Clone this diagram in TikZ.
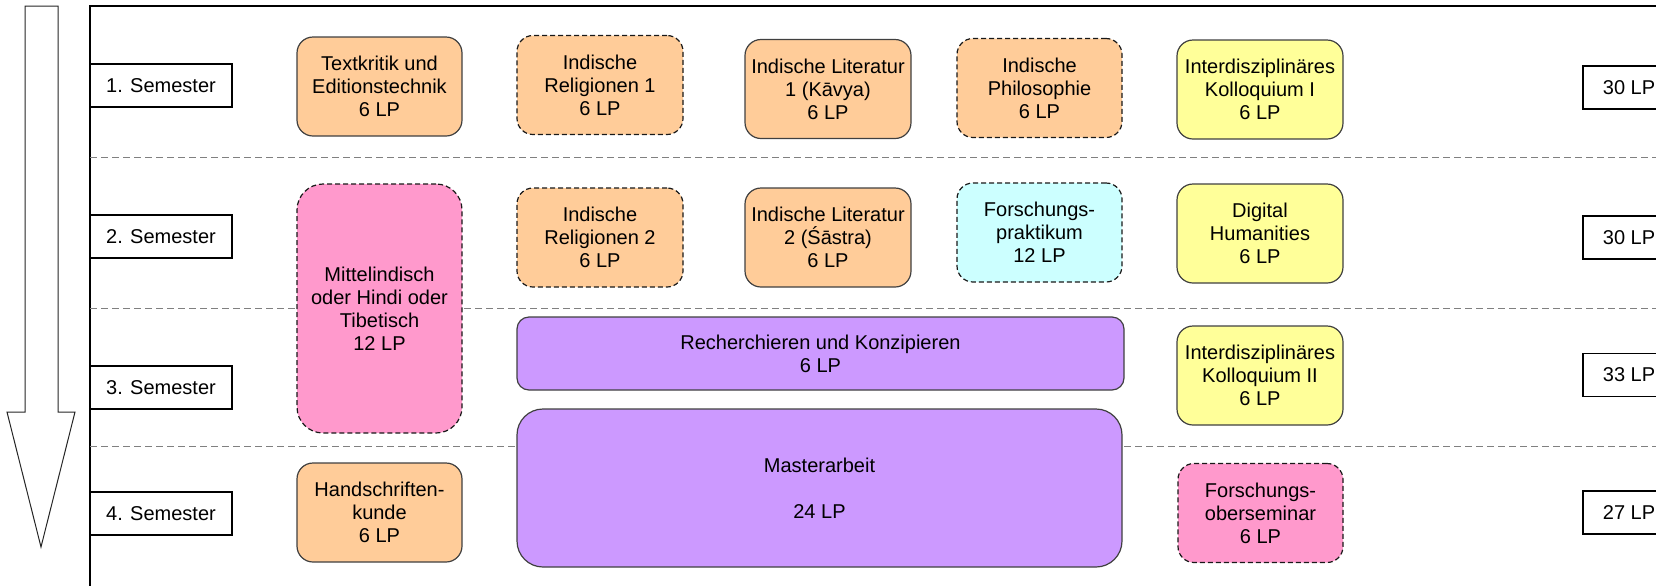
\documentclass[tikz,border=0pt]{standalone}
\usepackage{fontspec}
\setmainfont{Liberation Sans}
\usepackage{tikz}
\usetikzlibrary{positioning}
\definecolor{modorange}{HTML}{FFCC99}
\definecolor{modpink}{HTML}{FF99CC}
\definecolor{modcyan}{HTML}{CCFFFF}
\definecolor{modyellow}{HTML}{FFFF99}
\definecolor{modpurple}{HTML}{CC99FF}
\newcommand{\modfont}{\fontsize{10}{11.5}\selectfont}
\tikzset{
		sep line/.style={gray,line width=0.5pt,dash pattern=on 3.5pt off 2pt},
		}

\begin{document}
\begin{tikzpicture}[x=0.5pt,y=-0.5pt]
	\tikzstyle{module}=[draw=black!75,line width=0.6pt,rounded corners=8pt,align=center,font=\modfont,minimum width=82.5pt,minimum height=49.5pt,inner sep=0pt]
	\tikzstyle{optional}=[module,draw=black!90,dash pattern=on 2.5pt off 1.5pt]
	\tikzstyle{label box}=[draw,line width=0.7pt,fill=white,font=\modfont,minimum width=71pt,minimum height=21.5pt,inner sep=0pt]
	\tikzstyle{lp box}=[label box,minimum width=46pt]
	\useasboundingbox (0,0) rectangle (1656,585);
	\clip (0,0) rectangle (1656,585);
	%ARROW
	\draw[black!85,fill=white,line width=0.5pt] (25,6) -- (58,6) -- (58,412) -- (75,412) -- (41,547) -- (7,412) -- (25,412) -- cycle;
	%FRAME and SEPARATORS
	\draw[line width=0.7pt] (90,620) -- (90,6) -- (1700,6);
	\foreach \y in {157,308,446}
		\draw[sep line] (90,\y) -- (1656,\y);
	%NODES for Semesters
	\foreach \i/\y in {1/85.5,2/236.5,3/387.5,4/513.5}
		\node[label box](sem\i) at (161,\y) {\i. Semester};
	%NODES for LP sums
	\node[lp box](lp1) at (1629,87.5) {30 LP};
	\node[lp box](lp2) at (1629,237.5) {30 LP};
	\node[lp box](lp3) at (1629,375) {33 LP};
	\node[lp box](lp4) at (1629,512.5) {27 LP};
	%NODES for first column
	\node[module,fill=modorange](textkritik) at (379.5,86.5) {Textkritik und\\Editionstechnik\\6 LP};
	\node[optional,fill=modpink,minimum height=124.5pt,rounded corners=13pt](mittel) at (379.5,308.5) {Mittelindisch\\oder Hindi oder\\Tibetisch\\12 LP};
	\node[module,fill=modorange](handschrift) at (379.5,512.5) {Handschriften-\\kunde\\6 LP};
	%NODES for Indology
	\node[optional,fill=modorange,minimum width=83pt](religion1) at (600,85) {Indische\\Religionen 1\\6 LP};
	\node[optional,fill=modorange,minimum width=83pt](religion2) at (600,237.5) {Indische\\Religionen 2\\6 LP};
	\node[module,fill=modorange,minimum width=83pt](literatur1) at (828,89) {Indische Literatur\\1 (Kāvya)\\6 LP};
	\node[module,fill=modorange,minimum width=83pt](literatur2) at (828,237.5) {Indische Literatur\\2 (Śāstra)\\6 LP};
	\node[optional,fill=modorange](philosophie) at (1039.5,88) {Indische\\Philosophie\\6 LP};
	\node[optional,fill=modcyan](praktikum) at (1039.5,232.5) {Forschungs-\\praktikum\\12 LP};
	%NODES for Colloquia
	\node[module,fill=modyellow,minimum width=83pt](kolloq1) at (1260,89.5) {Interdisziplinäres\\Kolloquium I\\6 LP};
	\node[module,fill=modyellow,minimum width=83pt](digital) at (1260,233.5) {Digital\\Humanities\\6 LP};
	\node[module,fill=modyellow,minimum width=83pt](kolloq2) at (1260,375.5) {Interdisziplinäres\\Kolloquium II\\6 LP};
	\node[optional,fill=modpink](oberseminar) at (1260.5,513) {Forschungs-\\oberseminar\\6 LP};
	%NODES for Thesis
	\node[module,fill=modpurple,minimum width=303.5pt,minimum height=36.5pt,rounded corners=6pt](recherche) at (820.5,353.5) {Recherchieren und Konzipieren\\6 LP};
	\node[module,fill=modpurple,minimum width=302.5pt,minimum height=79pt,rounded corners=13pt](master) at (819.5,488) {Masterarbeit\\[11.5pt]24 LP};
\end{tikzpicture}
\end{document}
